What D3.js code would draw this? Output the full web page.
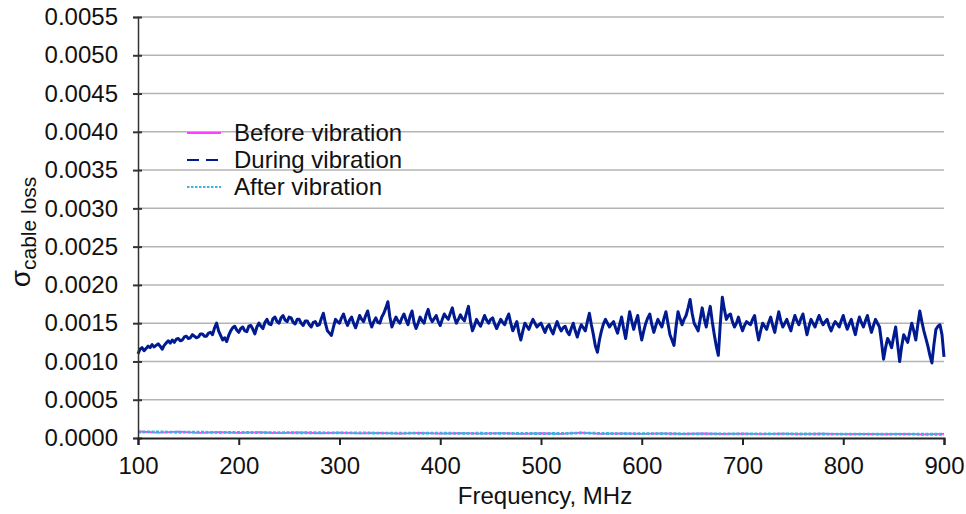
<!DOCTYPE html>
<html><head><meta charset="utf-8">
<script src="https://cdn.jsdelivr.net/npm/d3@7"></script>
<style>
html,body{margin:0;padding:0;background:#fff;}
svg{display:block;font-family:"Liberation Sans",Arial,sans-serif;}
</style></head>
<body><svg id="c" width="966" height="514"></svg>
<script>
// ---- data ----
const yTicks = [0,0.0005,0.0010,0.0015,0.0020,0.0025,0.0030,0.0035,0.0040,0.0045,0.0050,0.0055];
const xTicks = [100,200,300,400,500,600,700,800,900];
const seriesNames = ["Before vibration","During vibration","After vibration"];

// During vibration, sampled every 2 MHz from 100 to 900 MHz
const duringFreq = d3.range(100, 901, 2);
const duringVals = [
0.00110,0.00116,0.00118,0.00114,0.00117,0.00120,0.00118,0.00122,0.00119,0.00121,
0.00123,0.00120,0.00116,0.00121,0.00124,0.00127,0.00124,0.00128,0.00125,0.00129,
0.00130,0.00127,0.00128,0.00132,0.00133,0.00130,0.00131,0.00135,0.00133,0.00131,
0.00132,0.00136,0.00136,0.00133,0.00133,0.00137,0.00138,0.00135,0.00144,0.00150,
0.00140,0.00134,0.00128,0.00131,0.00126,0.00134,0.00140,0.00144,0.00146,0.00141,
0.00138,0.00143,0.00145,0.00140,0.00139,0.00146,0.00147,0.00142,0.00136,0.00145,
0.00150,0.00146,0.00143,0.00151,0.00155,0.00149,0.00148,0.00156,0.00158,0.00152,
0.00150,0.00157,0.00160,0.00154,0.00152,0.00158,0.00157,0.00151,0.00149,0.00155,
0.00155,0.00150,0.00147,0.00153,0.00153,0.00148,0.00145,0.00151,0.00152,0.00147,
0.00148,0.00156,0.00163,0.00150,0.00140,0.00137,0.00134,0.00145,0.00155,0.00152,
0.00150,0.00157,0.00162,0.00153,0.00147,0.00154,0.00158,0.00150,0.00144,0.00152,
0.00160,0.00155,0.00152,0.00160,0.00166,0.00153,0.00145,0.00152,0.00157,0.00151,
0.00150,0.00158,0.00163,0.00170,0.00178,0.00158,0.00145,0.00152,0.00158,0.00153,
0.00150,0.00157,0.00162,0.00154,0.00148,0.00159,0.00166,0.00151,0.00143,0.00150,
0.00158,0.00153,0.00150,0.00161,0.00168,0.00157,0.00152,0.00156,0.00160,0.00152,
0.00147,0.00155,0.00162,0.00158,0.00155,0.00163,0.00170,0.00158,0.00150,0.00155,
0.00161,0.00156,0.00153,0.00163,0.00172,0.00152,0.00140,0.00147,0.00155,0.00150,
0.00146,0.00153,0.00160,0.00154,0.00150,0.00155,0.00157,0.00149,0.00143,0.00149,
0.00155,0.00151,0.00148,0.00156,0.00162,0.00150,0.00140,0.00146,0.00152,0.00138,
0.00128,0.00140,0.00150,0.00146,0.00142,0.00149,0.00155,0.00150,0.00145,0.00148,
0.00150,0.00144,0.00138,0.00145,0.00148,0.00141,0.00136,0.00145,0.00152,0.00145,
0.00140,0.00144,0.00146,0.00139,0.00135,0.00143,0.00150,0.00140,0.00132,0.00141,
0.00148,0.00144,0.00140,0.00152,0.00163,0.00148,0.00135,0.00120,0.00112,0.00128,
0.00140,0.00149,0.00155,0.00150,0.00145,0.00149,0.00152,0.00144,0.00137,0.00148,
0.00158,0.00143,0.00130,0.00148,0.00165,0.00153,0.00142,0.00152,0.00160,0.00142,
0.00128,0.00140,0.00150,0.00157,0.00162,0.00148,0.00138,0.00147,0.00155,0.00150,
0.00145,0.00156,0.00165,0.00150,0.00135,0.00128,0.00121,0.00145,0.00165,0.00156,
0.00148,0.00155,0.00160,0.00170,0.00181,0.00163,0.00150,0.00145,0.00140,0.00155,
0.00170,0.00156,0.00145,0.00160,0.00172,0.00152,0.00135,0.00120,0.00108,0.00150,
0.00184,0.00168,0.00155,0.00160,0.00162,0.00152,0.00145,0.00150,0.00158,0.00148,
0.00140,0.00147,0.00152,0.00150,0.00148,0.00155,0.00160,0.00142,0.00128,0.00140,
0.00150,0.00146,0.00142,0.00151,0.00158,0.00147,0.00138,0.00152,0.00165,0.00153,
0.00145,0.00150,0.00155,0.00147,0.00140,0.00151,0.00160,0.00153,0.00148,0.00156,
0.00162,0.00148,0.00135,0.00146,0.00155,0.00150,0.00145,0.00153,0.00160,0.00153,
0.00148,0.00152,0.00155,0.00146,0.00140,0.00147,0.00152,0.00149,0.00145,0.00153,
0.00160,0.00150,0.00142,0.00149,0.00155,0.00144,0.00135,0.00148,0.00158,0.00151,
0.00145,0.00153,0.00160,0.00148,0.00138,0.00147,0.00155,0.00150,0.00145,0.00125,
0.00103,0.00118,0.00130,0.00125,0.00118,0.00132,0.00145,0.00122,0.00100,0.00120,
0.00135,0.00130,0.00125,0.00138,0.00150,0.00140,0.00128,0.00148,0.00166,0.00152,
0.00140,0.00130,0.00120,0.00108,0.00098,0.00122,0.00142,0.00146,0.00148,0.00135,
0.00106];

// Before / after vibration, sampled every 20 MHz
const baFreq = d3.range(100, 901, 20);
const beforeVals = [
0.000085,0.000070,0.000082,0.000068,0.000078,0.000066,0.000075,0.000064,0.000073,0.000062,
0.000070,0.000060,0.000068,0.000058,0.000066,0.000057,0.000064,0.000056,0.000063,0.000055,
0.000062,0.000054,0.000070,0.000055,0.000061,0.000053,0.000060,0.000052,0.000059,0.000052,
0.000058,0.000051,0.000057,0.000050,0.000056,0.000050,0.000055,0.000049,0.000054,0.000048,
0.000053];
const afterVals = [
0.000078,0.000080,0.000075,0.000077,0.000072,0.000074,0.000070,0.000071,0.000068,0.000069,
0.000066,0.000067,0.000064,0.000065,0.000062,0.000063,0.000061,0.000062,0.000060,0.000060,
0.000058,0.000059,0.000066,0.000060,0.000057,0.000056,0.000056,0.000055,0.000055,0.000054,
0.000054,0.000053,0.000053,0.000052,0.000052,0.000051,0.000051,0.000050,0.000050,0.000049,
0.000049];

// ---- chart ----
const svg = d3.select("#c");
const L = 138, R = 944, T = 17, B = 438;
const x = d3.scaleLinear().domain([100,900]).range([L,R]);
const y = d3.scaleLinear().domain([0,0.0055]).range([B,T]);
const FONT = 24;

// gridlines
svg.append("g").selectAll("line").data(yTicks.filter(d=>d>0)).join("line")
  .attr("x1",L).attr("x2",R).attr("y1",d=>y(d)).attr("y2",d=>y(d))
  .attr("stroke","#b4b4b4").attr("stroke-width",1.5);

// series
const line = d3.line().x(d=>x(d[0])).y(d=>y(d[1]));
const colors = {before:"#ff3cff", during:"#001a90", after:"#3cb4dc"};

svg.append("path").datum(baFreq.map((f,i)=>[f,beforeVals[i]]))
  .attr("d",line).attr("fill","none").attr("stroke",colors.before).attr("stroke-width",1.8);
svg.append("path").datum(baFreq.map((f,i)=>[f,afterVals[i]]))
  .attr("d",line).attr("fill","none").attr("stroke",colors.after).attr("stroke-width",2.8)
  .attr("stroke-dasharray","3,1.5");
svg.append("path").datum(duringFreq.map((f,i)=>[f,duringVals[i]]))
  .attr("d",line).attr("fill","none").attr("stroke",colors.during).attr("stroke-width",3)
  .attr("stroke-linejoin","round");

// axes
const fmt = d3.format(".4f");
const yAxis = d3.axisLeft(y).tickValues(yTicks).tickFormat(fmt).tickSize(5).tickPadding(15);
const gy = svg.append("g").attr("transform",`translate(${L},0)`).call(yAxis);
gy.select(".domain").attr("stroke","#333").attr("stroke-width",1.5);
gy.selectAll(".tick line").attr("stroke","#333").attr("stroke-width",2).attr("x1",4);
gy.selectAll(".tick text").attr("font-size",FONT).attr("fill","#111")
  .attr("font-family","Liberation Sans, Arial, sans-serif");

const xAxis = d3.axisBottom(x).tickValues(xTicks).tickFormat(d3.format("d")).tickSize(7).tickPadding(12);
const gx = svg.append("g").attr("transform",`translate(0,${B})`).call(xAxis);
gx.select(".domain").attr("stroke","#222").attr("stroke-width",2);
gx.selectAll(".tick line").attr("stroke","#222").attr("stroke-width",2);
gx.selectAll(".tick text").attr("font-size",FONT).attr("fill","#111")
  .attr("font-family","Liberation Sans, Arial, sans-serif");

// axis titles
svg.append("text").attr("x",(L+R)/2+4).attr("y",504).attr("text-anchor","middle")
  .attr("font-size",FONT).attr("fill","#111").text("Frequency, MHz");
const yt = svg.append("text").attr("transform","translate(30,232) rotate(-90)")
  .attr("text-anchor","middle").attr("fill","#111");
yt.append("tspan").attr("font-size",28).text("σ");
yt.append("tspan").attr("font-size",21).attr("dy",6).text("cable loss");

// legend
const leg = [
  {name:seriesNames[0], c:colors.before, dash:null, w:2},
  {name:seriesNames[1], c:colors.during, dash:"12,7", w:2},
  {name:seriesNames[2], c:colors.after, dash:"2.5,1.5", w:2}
];
const lg = svg.append("g");
leg.forEach((d,i)=>{
  const yy = 133 + i*27;
  lg.append("line").attr("x1",187).attr("x2",221).attr("y1",yy).attr("y2",yy)
    .attr("stroke",d.c).attr("stroke-width",d.w).attr("stroke-dasharray",d.dash);
  lg.append("text").attr("x",234).attr("y",yy+8).attr("font-size",FONT).attr("fill","#111").text(d.name);
});
</script>
</body></html>
